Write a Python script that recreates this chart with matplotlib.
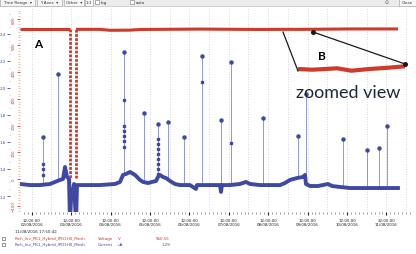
import numpy as np
import matplotlib.pyplot as plt
from matplotlib.lines import Line2D
from matplotlib.patches import Rectangle
from matplotlib.ticker import MultipleLocator, FuncFormatter
from datetime import datetime, timedelta

W, H = 416, 255

# time axis: days since 02/08/2016 00:00
t0 = datetime(2016, 8, 2)

# current (uA), main trace
cur_days = [0.201, 0.454, 0.708, 0.962, 1.089, 1.216, 1.292, 1.343, 1.393, 1.444,
            1.470, 1.495, 1.571, 1.622, 1.647, 1.850, 2.231, 2.612, 2.739, 2.815,
            2.891, 2.992, 3.119, 3.246, 3.322, 3.449, 3.551, 3.652, 3.703, 3.754,
            3.830, 3.906, 4.008, 4.134, 4.261, 4.515, 4.667, 4.693, 5.023, 5.277,
            5.302, 5.327, 5.530, 5.784, 5.937, 6.038, 6.292, 6.546, 6.799, 6.926,
            7.053, 7.231, 7.383, 7.434, 7.459, 7.561, 7.764, 8.018, 8.119, 8.322,
            8.576, 8.830, 9.338, 9.794]
cur_uA = [1.289, 1.281, 1.281, 1.289, 1.304, 1.319, 1.326, 1.415, 1.341, 1.326,
          1.000, 1.178, 1.289, 1.000, 1.281, 1.281, 1.281, 1.289, 1.304, 1.356,
          1.363, 1.378, 1.356, 1.319, 1.304, 1.296, 1.304, 1.311, 1.341, 1.356,
          1.341, 1.333, 1.311, 1.289, 1.281, 1.281, 1.252, 1.281, 1.281, 1.281,
          1.230, 1.281, 1.281, 1.289, 1.304, 1.289, 1.281, 1.281, 1.281, 1.296,
          1.319, 1.333, 1.341, 1.356, 1.289, 1.274, 1.274, 1.289, 1.274, 1.267,
          1.259, 1.259, 1.259, 1.259]

# isolated current spikes
spike_days = [0.784, 1.165, 2.840, 3.348, 3.703, 3.957, 4.363, 4.820, 5.302,
              5.556, 6.368, 7.256, 7.459, 8.398, 9.008, 9.312, 9.515]
spike_uA = [1.637, 2.104, 2.267, 1.815, 1.733, 1.748, 1.637, 2.237, 1.763,
            2.193, 1.778, 1.644, 1.956, 1.622, 1.541, 1.556, 1.719]

# extra samples along some spikes
burst_days = [0.784, 0.784, 0.784, 2.840, 2.840, 2.840, 2.840, 2.840, 2.840,
              3.703, 3.703, 3.703, 3.703, 3.703, 3.703, 3.703, 3.703, 4.820, 5.556]
burst_uA = [1.437, 1.400, 1.356, 1.911, 1.719, 1.681, 1.644, 1.607, 1.563,
            1.622, 1.585, 1.548, 1.511, 1.474, 1.437, 1.400, 1.363, 2.044, 1.593]

# voltage (V), before and after the trip
volt_days_a = [0.201, 0.708, 1.444, 1.470]
volt_a = [560.5, 560.5, 560.5, 560.5]
volt_days_b = [1.622, 2.231, 2.485, 2.992, 3.246, 4.769, 6.292, 6.876, 6.977,
               7.155, 7.256, 7.383, 7.510, 7.637, 8.576, 9.794]
volt_b = [560.5, 560.5, 557.0, 557.5, 560.0, 561.5, 560.0, 560.53, 560.46,
          560.60, 560.36, 560.53, 560.65, 560.80, 562.0, 562.0]
trip_days = [1.470, 1.622]
trip_low = 5.0

zoom_days = (6.876, 7.637)

blue_ticks = [1.2, 1.4, 1.6, 1.8, 2.0, 2.2, 2.4]
red_ticks = [-100, 0, 100, 200, 300, 400, 500, 600]

name = "Rich_Inv_PK1_Hybrid_IPD1H0_Mesh"
legend_rows = [("Voltage", "V", "560.55", "#c83a2e"),
               ("Current", "uA", "1.29", "#3f49a3")]

BLUE = "#3f49a3"
RED = "#cc3b2c"


def fx(px):
    return px / W


def fy(py):
    return 1 - py / H


fig = plt.figure(figsize=(W / 100, H / 100), dpi=100)
fig.patch.set_facecolor("white")

ax = fig.add_axes([fx(20), fy(213), (412 - 20) / W, (213 - 10) / H])
ax2 = ax.twinx()

# grid every 12 h
for g in np.arange(0.5, 10.2, 0.5):
    ax.axvline(g, color="#c8c8c8", lw=0.6, ls=(0, (1, 2)), zorder=0)

# current
base = np.interp(spike_days, cur_days, cur_uA)
ax.vlines(spike_days, base, spike_uA, color="#7f86cc", lw=0.6, zorder=2)
ax.plot(spike_days, spike_uA, "o", color=BLUE, ms=2.2, zorder=3)
ax.plot(burst_days, burst_uA, "s", color=BLUE, ms=1.5, zorder=3)
ax.plot(cur_days, cur_uA, color=BLUE, lw=2.8, solid_joinstyle="round", zorder=3)

# voltage
ax2.plot(volt_days_a, volt_a, color=RED, lw=2.2, solid_capstyle="butt")
ax2.plot(volt_days_b, volt_b, color=RED, lw=2.2, solid_capstyle="butt")
ax2.plot([trip_days[0], trip_days[0]], [volt_a[-1], trip_low], color=RED,
         lw=2.0, ls=(0, (1.0, 0.5)))
ax2.plot([trip_days[1], trip_days[1]], [trip_low, volt_b[0]], color=RED,
         lw=2.0, ls=(0, (1.0, 0.5)))

ax.set_xlim(0.2005, 10.15)
ax.set_ylim(1.0815, 2.585)
ax2.set_ylim(-123.6, 636.7)

# x axis
ax.xaxis.set_major_locator(MultipleLocator(1.0, offset=0.5))
ax.xaxis.set_minor_locator(MultipleLocator(0.1))
ax.xaxis.set_major_formatter(FuncFormatter(
    lambda v, p: (t0 + timedelta(days=v)).strftime("%H:%M:%S\n%d/%m/%Y")))
ax.tick_params(axis="x", which="major", length=2.5, width=0.8, pad=1.5,
               labelsize=2.9, colors="#222222")
ax.tick_params(axis="x", which="minor", length=1.5, width=0.4, colors="#555555")

# blue axis (far left)
for s in ["top", "right", "bottom"]:
    ax.spines[s].set_visible(False)
    ax2.spines[s].set_visible(False)
ax.spines["left"].set_position(("outward", 7.5))
ax.spines["left"].set_visible(False)
ax.set_yticks(blue_ticks)
ax.yaxis.set_minor_locator(MultipleLocator(0.05))
ax.yaxis.set_major_formatter(FuncFormatter(lambda v, p: "%.1f" % v))
ax.tick_params(axis="y", which="major", length=2, width=0.6, pad=0.5,
               labelsize=2.9, colors=BLUE)
ax.tick_params(axis="y", which="minor", length=1, width=0.4, colors="#9aa0d8")

# red axis
ax2.spines["left"].set_visible(False)
ax2.yaxis.set_ticks_position("left")
ax2.set_yticks(red_ticks)
ax2.yaxis.set_minor_locator(MultipleLocator(10))
ax2.tick_params(axis="y", which="major", length=2, width=0.6, pad=1,
                labelsize=2.9, colors=RED, labelrotation=90)
ax2.tick_params(axis="y", which="minor", length=1.2, width=0.4, colors="#e08a80")
for lab in ax2.get_yticklabels():
    lab.set_verticalalignment("center")

# zoom inset of the voltage
axin = fig.add_axes([fx(298), fy(80), (405 - 298) / W, 20 / H])
axin.plot(volt_days_b, volt_b, color=RED, lw=3.0)
axin.set_xlim(*zoom_days)
axin.set_ylim(559.53, 561.53)
axin.axis("off")

# callout
for (x1, y1, x2, y2) in [(283, 33, 298, 72), (313, 33, 405, 65)]:
    fig.add_artist(Line2D([fx(x1), fx(x2)], [fy(y1), fy(y2)],
                          transform=fig.transFigure, color="#1a1a1a", lw=0.9))
fig.add_artist(Line2D([fx(313), fx(405)], [fy(33), fy(65)], ls="none",
                      marker="o", ms=2.6, color="#1a1a1a",
                      transform=fig.transFigure))

fig.text(fx(38), fy(44), "A", family="Lato", fontsize=8.5, weight="bold",
         ha="center", va="center")
fig.text(fx(322), fy(57), "B", family="Lato", fontsize=8.5, weight="bold",
         ha="center", va="center")
fig.text(fx(348), fy(93), "zoomed view", family="Lato", fontsize=13,
         color="#1e2a3a", ha="center", va="center")

# toolbar
fig.add_artist(Rectangle((0, fy(7)), 1, 7 / H, transform=fig.transFigure,
                         fc="#ececec", ec="none"))
fig.add_artist(Line2D([0, 1], [fy(7), fy(7)], transform=fig.transFigure,
                      color="#bdbdbd", lw=0.5))
for (x0, x1, label) in [(0, 35, "Time Range  \u25be"), (37, 62, "Y Axes  \u25be"),
                        (64, 84, "Other  \u25be"), (85, 93, "1:1"),
                        (399, 416, "Close")]:
    fig.add_artist(Rectangle((fx(x0), fy(6.5)), (x1 - x0) / W, 7 / H,
                             transform=fig.transFigure, fc="#f6f6f6",
                             ec="#9a9a9a", lw=0.4))
    fig.text(fx((x0 + x1) / 2), fy(3), label, fontsize=3.0, color="#333333",
             ha="center", va="center")
for (x0, label) in [(95, "log"), (130, "auto")]:
    fig.add_artist(Rectangle((fx(x0), fy(5)), 4 / W, 4 / H,
                             transform=fig.transFigure, fc="white",
                             ec="#777777", lw=0.4))
    fig.text(fx(x0 + 6), fy(3), label, fontsize=3.0, color="#333333",
             ha="left", va="center")
fig.text(fx(387), fy(3), "\u2299", fontsize=3.5, color="#555555",
         ha="center", va="center")

# status / legend lines
fig.text(fx(15), fy(232), "11/08/2016 17:50:42", fontsize=2.9, color="#222222",
         ha="left", va="center")
for i, (qty, unit, val, col) in enumerate(legend_rows):
    y = 239 + 6 * i
    fig.add_artist(Rectangle((fx(2), fy(y + 1.5)), 3 / W, 3 / H,
                             transform=fig.transFigure, fc="white",
                             ec="#444444", lw=0.4))
    fig.text(fx(15), fy(y), name, fontsize=2.9, color=col, ha="left", va="center")
    fig.text(fx(98), fy(y), qty, fontsize=2.9, color=col, ha="left", va="center")
    fig.text(fx(118), fy(y), unit, fontsize=2.9, color=col, ha="left", va="center")
    fig.text(fx(170), fy(y), val, fontsize=2.9, color=col, ha="right", va="center")

fig.savefig("out.png", dpi=100)
